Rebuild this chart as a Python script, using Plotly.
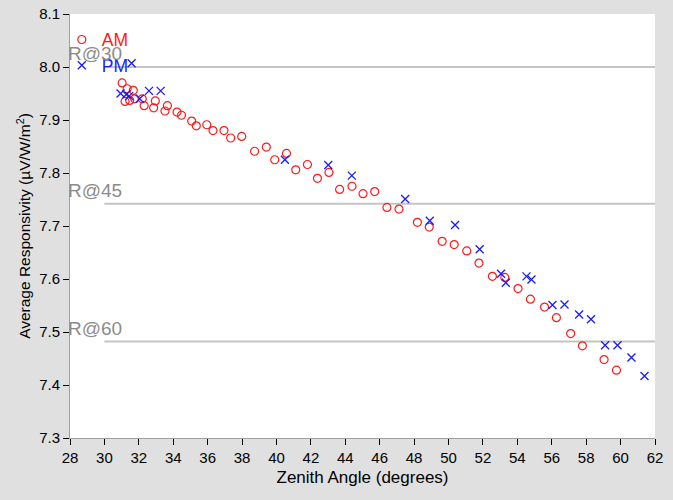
import plotly.graph_objects as go

am_x = [31.03, 31.32, 31.68, 31.20, 31.47, 31.76, 32.20, 32.31, 32.96, 32.86,
        33.66, 33.52, 34.22, 34.48, 35.07, 35.34, 35.95, 36.31, 36.95, 37.34,
        37.98, 38.73, 39.41, 39.90, 40.58, 41.12, 41.80, 42.38, 43.05, 43.67,
        44.39, 45.03, 45.71, 46.42, 47.12, 48.19, 48.88, 49.63, 50.33, 51.06,
        51.77, 52.55, 53.27, 54.04, 54.76, 55.58, 56.27, 57.10, 57.78, 59.04,
        59.76]
am_y = [7.970, 7.959, 7.956, 7.935, 7.937, 7.940, 7.940, 7.927, 7.936, 7.923,
        7.927, 7.917, 7.915, 7.909, 7.898, 7.889, 7.891, 7.880, 7.880, 7.866,
        7.869, 7.841, 7.849, 7.825, 7.837, 7.806, 7.816, 7.790, 7.801, 7.769,
        7.775, 7.761, 7.765, 7.735, 7.732, 7.707, 7.698, 7.671, 7.665, 7.653,
        7.630, 7.605, 7.603, 7.582, 7.562, 7.547, 7.527, 7.497, 7.474, 7.448,
        7.428]

pm_x = [30.94, 31.27, 31.44, 31.58, 32.05, 32.59, 33.27, 40.49, 43.01, 44.38,
        47.48, 48.91, 50.38, 51.81, 53.05, 53.33, 54.53, 54.82, 56.04, 56.74,
        57.59, 58.28, 59.10, 59.82, 60.63, 61.39]
pm_y = [7.950, 7.948, 7.945, 8.007, 7.940, 7.955, 7.955, 7.825, 7.815, 7.795,
        7.751, 7.710, 7.702, 7.656, 7.610, 7.593, 7.605, 7.599, 7.551, 7.552,
        7.533, 7.524, 7.475, 7.475, 7.452, 7.417]

ref_labels = ["R@30", "R@45", "R@60"]
ref_values = [8.000, 7.742, 7.482]
ref_x_start = 30
ref_x_end = 62

x_range = [28, 62]
y_range = [7.3, 8.1]

FONT = "Liberation Sans, Arial, sans-serif"

fig = go.Figure()

for lab, val in zip(ref_labels, ref_values):
    fig.add_trace(go.Scatter(
        x=[ref_x_start, ref_x_end], y=[val, val], mode="lines",
        line=dict(color="#c4c4c4", width=2), showlegend=False, hoverinfo="skip"))
    fig.add_annotation(x=x_range[0], y=val, text=lab, showarrow=False,
                       xanchor="left", yanchor="bottom", xshift=-4, yshift=1,
                       font=dict(family=FONT, size=19, color="#8c8c8c"))

fig.add_trace(go.Scatter(
    x=am_x, y=am_y, mode="markers",
    name="<span style='color:#ff1a1a'>AM</span>",
    marker=dict(symbol="circle-open", size=8, color="#ff1a1a", line=dict(width=1.2))))
fig.add_trace(go.Scatter(
    x=pm_x, y=pm_y, mode="markers",
    name="<span style='color:#1a1aff'>PM</span>",
    marker=dict(symbol="x-thin-open", size=8, color="#1a1aff", line=dict(width=1.3, color="#1a1aff"))))

fig.update_layout(
    width=673, height=500,
    margin=dict(l=70, r=18, t=14, b=62, autoexpand=False),
    paper_bgcolor="#e0e0e0",
    plot_bgcolor="#ffffff",
    font=dict(family=FONT, size=15, color="#000000"),
    showlegend=True,
    legend=dict(x=-0.014, y=0.982, xanchor="left", yanchor="top",
                bgcolor="rgba(0,0,0,0)", font=dict(family=FONT, size=17.5),
                itemwidth=30, tracegroupgap=0, traceorder="normal"),
)
fig.update_xaxes(
    range=x_range, dtick=2, tick0=28, showgrid=False, zeroline=False,
    showline=True, linecolor="#a0a0a0", linewidth=1, automargin=False,
    ticks="outside", ticklen=6, tickcolor="#000000", tickwidth=1,
    tickfont=dict(family=FONT, size=15),
    title=dict(text="Zenith Angle (degrees)", font=dict(family=FONT, size=17), standoff=6))
fig.update_yaxes(
    range=y_range, dtick=0.1, tick0=7.3, tickformat=".1f", showgrid=False, zeroline=False,
    showline=True, linecolor="#a0a0a0", linewidth=1, automargin=False,
    ticks="outside", ticklen=6, tickcolor="#000000", tickwidth=1,
    tickfont=dict(family=FONT, size=15),
    title=dict(text="Average Responsivity (µV/W/m<sup>2</sup>)", font=dict(family=FONT, size=15.5), standoff=4))

fig.write_html("out.html")
